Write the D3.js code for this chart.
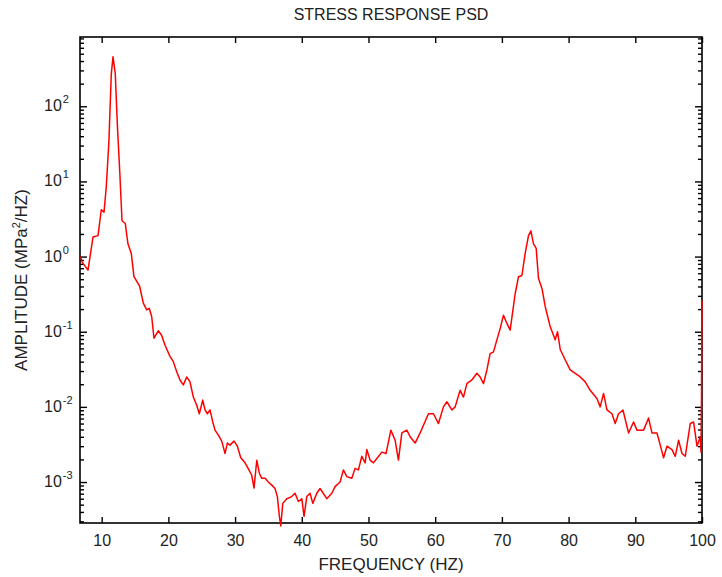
<!DOCTYPE html>
<html>
<head>
<meta charset="utf-8">
<script src="https://cdn.jsdelivr.net/npm/d3@7"></script>
<style>
  html, body { margin: 0; padding: 0; background: #fff; overflow: hidden; }
  svg { display: block; }
  text { font-family: "Liberation Sans", Arial, sans-serif; fill: #222; }
</style>
</head>
<body>
<svg width="722" height="577"></svg>
<script>
// frequency (Hz) and stress PSD amplitude (MPa^2/Hz)
const freq = [6.85, 7.05, 7.95, 8.7, 9.45, 9.94, 10.35, 10.69, 11.09, 11.44, 11.7, 12.04, 12.34, 12.7,
  13.05, 13.54, 13.94, 14.44, 14.84, 15.44, 15.7, 16.24, 16.75, 17.14, 17.5, 17.84, 18.49, 19.0, 19.5,
  20.24, 20.74, 21.25, 21.74, 22.24, 22.75, 23.24, 23.74, 24.25, 24.64, 25.15, 25.5, 25.84, 26.24,
  26.65, 26.99, 27.49, 28.0, 28.5, 28.84, 29.24, 29.84, 30.34, 30.85, 31.5, 31.99, 32.5, 32.84, 33.25,
  33.64, 34.0, 34.5, 34.99, 35.5, 35.99, 36.34, 36.64, 36.85, 37.15, 37.75, 38.5, 38.99, 39.49, 40.0,
  40.34, 40.75, 41.24, 41.65, 42.25, 42.74, 43.75, 44.5, 44.99, 45.74, 46.24, 46.75, 47.5, 47.99,
  48.49, 49.0, 49.5, 49.75, 50.24, 50.74, 51.34, 52.0, 52.64, 53.35, 53.99, 54.49, 55.0, 55.75, 56.24,
  56.99, 57.74, 58.99, 59.74, 60.49, 61.24, 61.75, 62.5, 62.99, 63.74, 64.24, 64.75, 65.5, 66.25,
  66.74, 67.24, 67.75, 68.24, 68.74, 69.25, 69.74, 70.24, 70.75, 71.24, 71.99, 72.49, 73.0, 73.49,
  73.99, 74.35, 74.74, 75.14, 75.49, 76.0, 76.5, 77.24, 77.99, 78.34, 78.75, 79.5, 80.24, 80.99,
  81.74, 82.49, 83.24, 84.25, 84.74, 85.24, 85.75, 86.5, 86.99, 87.49, 88.15, 88.99, 89.74, 90.25,
  91.24, 91.99, 92.5, 93.25, 93.74, 94.24, 94.75, 95.5, 95.99, 96.49, 97.0, 97.49, 98.24, 98.74,
  99.25, 99.74, 99.85, 99.92, 100];

const amplitude = [1.0, 0.85, 0.66, 1.82, 1.9, 4.2, 3.9, 8.5, 35, 270, 455, 270, 59, 14,
  3.0, 2.75, 1.48, 1.1, 0.54, 0.44, 0.40, 0.24, 0.195, 0.204, 0.158, 0.082, 0.103, 0.089, 0.066,
  0.047, 0.040, 0.0293, 0.0228, 0.0196, 0.025, 0.0215, 0.0135, 0.0105, 0.0081, 0.0123, 0.0091, 0.0081, 0.0091,
  0.0063, 0.0049, 0.0042, 0.0035, 0.0024, 0.0033, 0.0031, 0.0035, 0.0030, 0.0021, 0.0018, 0.0015, 0.00123, 0.00083, 0.00195,
  0.00131, 0.00112, 0.00112, 0.0010, 0.00091, 0.00082, 0.00064, 0.00035, 0.00026, 0.00052, 0.0006, 0.00064, 0.00071, 0.00055, 0.0006,
  0.00035, 0.00064, 0.00071, 0.00052, 0.00071, 0.00082, 0.0006, 0.00071, 0.00087, 0.0010, 0.00145, 0.00118, 0.00112, 0.00152,
  0.00145, 0.0022, 0.0018, 0.0027, 0.00196, 0.0018, 0.0021, 0.0025, 0.0024, 0.0049, 0.0036, 0.00196, 0.0045, 0.0049, 0.0040,
  0.0033, 0.0045, 0.0081, 0.0081, 0.0060, 0.0100, 0.0117, 0.0091, 0.0100, 0.0166, 0.0135, 0.0204, 0.0228, 0.0280,
  0.0250, 0.0204, 0.031, 0.051, 0.054, 0.078, 0.110, 0.166, 0.129, 0.105, 0.32, 0.54, 0.56, 1.10,
  1.90, 2.2, 1.48, 1.29, 0.51, 0.38, 0.215, 0.117, 0.078, 0.100, 0.058, 0.042, 0.031, 0.028,
  0.025, 0.0215, 0.0166, 0.0129, 0.0100, 0.0151, 0.0091, 0.0081, 0.0060, 0.0081, 0.0091, 0.0045, 0.0063, 0.0049,
  0.0049, 0.0071, 0.0045, 0.0045, 0.0031, 0.0021, 0.0030, 0.0027, 0.0022, 0.0036, 0.0024, 0.0022, 0.0060, 0.0063,
  0.0030, 0.0040, 0.0025, 0.012, 0.26];

const xTicks = [10, 20, 30, 40, 50, 60, 70, 80, 90, 100];
const yDecades = [-3, -2, -1, 0, 1, 2];

const svg = d3.select("svg");
const width = +svg.attr("width");
const height = +svg.attr("height");
const margin = { top: 37, right: 20, bottom: 54, left: 80 };
const innerWidth = width - margin.left - margin.right;
const innerHeight = height - margin.top - margin.bottom;

const x = d3.scaleLinear().domain([6.75, 100]).range([0, innerWidth]);
const y = d3.scaleLog().domain([2.85e-4, 835]).range([innerHeight, 0]);

const g = svg.append("g")
  .attr("transform", `translate(${margin.left},${margin.top})`);

// minor ticks 2..9 of every decade inside the domain
const minor = [];
for (let e = -4; e <= 2; e++) {
  for (let m = 2; m <= 9; m++) {
    const v = m * Math.pow(10, e);
    if (v > y.domain()[0] && v < y.domain()[1]) minor.push(v);
  }
}
const major = yDecades.map(e => Math.pow(10, e));

function clean(sel) {
  sel.select(".domain").remove();
  sel.selectAll("line").attr("stroke", "#000").attr("stroke-width", 1.4);
}
// tick-only axes: drop the empty label nodes
function ticksOnly(sel) {
  clean(sel);
  sel.selectAll("text").remove();
}

// bottom / top
g.append("g")
  .attr("transform", `translate(0,${innerHeight})`)
  .call(d3.axisBottom(x).tickValues(xTicks).tickSize(-6).tickPadding(12).tickFormat(d => d))
  .call(clean)
  .call(a => a.selectAll("text").style("font-size", "16px").attr("fill", "#222"));

g.append("g")
  .call(d3.axisTop(x).tickValues(xTicks).tickSize(-6))
  .call(ticksOnly);

// left / right majors and minors
g.append("g").call(d3.axisLeft(y).tickValues(major).tickSize(-7)).call(ticksOnly);
g.append("g").call(d3.axisLeft(y).tickValues(minor).tickSize(-4)).call(ticksOnly);
g.append("g").attr("transform", `translate(${innerWidth},0)`)
  .call(d3.axisRight(y).tickValues(major).tickSize(-7)).call(ticksOnly);
g.append("g").attr("transform", `translate(${innerWidth},0)`)
  .call(d3.axisRight(y).tickValues(minor).tickSize(-4)).call(ticksOnly);

// y tick labels: "10" with a raised exponent, one text each
const ylab = g.append("g");
yDecades.forEach(e => {
  const t = ylab.append("text")
    .attr("x", -36)
    .attr("y", y(Math.pow(10, e)) + 5)
    .style("font-size", "16px");
  t.append("tspan").text("10");
  t.append("tspan").attr("dx", 1).attr("dy", -8).style("font-size", "11px").text(e);
});

// frame
g.append("rect")
  .attr("width", innerWidth)
  .attr("height", innerHeight)
  .attr("fill", "none")
  .attr("stroke", "#000")
  .attr("stroke-width", 1.6);

// data line, drawn over the frame like the original
const line = d3.line()
  .x((d, i) => x(freq[i]))
  .y(d => y(d));

g.append("path")
  .datum(amplitude)
  .attr("fill", "none")
  .attr("stroke", "#ff0000")
  .attr("stroke-width", 1.5)
  .attr("stroke-linejoin", "round")
  .attr("d", line);

// title and axis labels
svg.append("text")
  .attr("x", margin.left + innerWidth / 2)
  .attr("y", 20)
  .attr("text-anchor", "middle")
  .style("font-size", "16px")
  .text("STRESS RESPONSE PSD");

svg.append("text")
  .attr("x", margin.left + innerWidth / 2)
  .attr("y", 570)
  .attr("text-anchor", "middle")
  .style("font-size", "17px")
  .text("FREQUENCY (HZ)");

const yl = svg.append("text")
  .attr("transform", `translate(27,${margin.top + innerHeight / 2}) rotate(-90)`)
  .attr("text-anchor", "middle")
  .style("font-size", "17px");
yl.append("tspan").text("AMPLITUDE (MPa");
yl.append("tspan").attr("dy", -7).style("font-size", "11px").text("2");
yl.append("tspan").attr("dy", 7).text("/HZ)");
</script>
</body>
</html>
